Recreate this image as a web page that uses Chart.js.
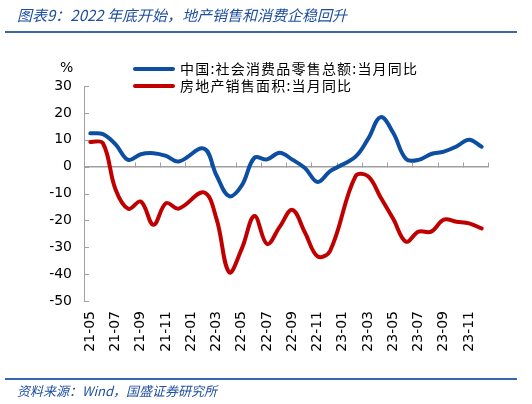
<!DOCTYPE html>
<html>
<head>
<meta charset="utf-8">
<script src="https://cdn.jsdelivr.net/npm/chart.js@4.4.1/dist/chart.umd.min.js"></script>
<style>
  html, body { margin: 0; padding: 0; background: #fff; }
  #wrap { position: relative; width: 532px; height: 404px; overflow: hidden; font-family: "Noto Sans CJK SC", "DejaVu Sans", sans-serif; }
  #chart { position: absolute; left: 0; top: 0; }
  .title { position: absolute; left: 17px; top: 4px; font-size: 15px; font-style: italic; color: #1f4fa0; white-space: nowrap; }
  .rule { position: absolute; left: 5px; width: 512px; height: 2px; background: #3a66ab; }
  .source { position: absolute; left: 17px; top: 381px; font-size: 13px; font-style: italic; color: #1f4fa0; white-space: nowrap; }
  .unit { position: absolute; left: 60px; top: 59px; font: 14px "DejaVu Sans", sans-serif; color: #000; }
  .leg { position: absolute; left: 133px; font-size: 14px; letter-spacing: 1.2px; color: #000; white-space: nowrap; line-height: 18px; }
  .leg i { display: inline-block; width: 42px; height: 4px; border-radius: 2px; vertical-align: middle; margin-right: 5px; position: relative; top: -1px; }
</style>
</head>
<body>
<div id="wrap">
  <canvas id="chart" width="532" height="404"></canvas>
  <div class="title">图表9：2022 年底开始，地产销售和消费企稳回升</div>
  <div class="rule" style="top:31px"></div>
  <div class="unit">%</div>
  <div class="leg" style="top:59px"><i style="background:#0b4ea2"></i>中国:社会消费品零售总额:当月同比</div>
  <div class="leg" style="top:76px"><i style="background:#c00000"></i>房地产销售面积:当月同比</div>
  <div class="rule" style="top:378px"></div>
  <div class="source">资料来源：Wind，国盛证券研究所</div>
</div>
<script>
// months 21-05 .. 23-12 (January values are not published, left empty)
const months = [
  "21-05","21-06","21-07","21-08","21-09","21-10","21-11","21-12",
  "22-01","22-02","22-03","22-04","22-05","22-06","22-07","22-08","22-09","22-10","22-11","22-12",
  "23-01","23-02","23-03","23-04","23-05","23-06","23-07","23-08","23-09","23-10","23-11","23-12"
];

// 中国:社会消费品零售总额:当月同比
const retailSales = [
  12.4, 12.1, 8.3, 2.5, 4.6, 5.0, 4.0, 1.9,
  null, 6.7, -3.3, -11.0, -7.0, 3.3, 2.7, 5.2, 2.6, -0.5, -5.7, -1.7,
  null, 3.7, 10.3, 18.4, 12.5, 2.9, 2.5, 4.7, 5.6, 7.5, 10.0, 7.4
];

// 房地产销售面积:当月同比
const housingArea = [
  9.2, 8.7, -8.5, -15.7, -13.0, -21.6, -13.6, -15.6,
  null, -9.6, -19.5, -39.3, -30.5, -18.4, -28.8, -22.4, -16.1, -24.5, -33.4, -31.3,
  null, -3.6, -3.6, -11.5, -19.5, -27.9, -24.2, -24.2, -19.7, -20.5, -21.1, -23.0
];

const yMin = -50, yMax = 30, yStep = 10;

// small tick marks: inward on the y axis, upward on the zero line every 2 months
const axisMarks = {
  id: 'axisMarks',
  beforeDatasetsDraw(chart) {
    const { ctx, scales: { x, y } } = chart;
    const y0 = Math.round(y.getPixelForValue(0)) + 0.5;
    const half = (x.getPixelForValue(1) - x.getPixelForValue(0)) / 2;
    ctx.save();
    ctx.strokeStyle = '#a0a0a0';
    ctx.lineWidth = 1;
    ctx.beginPath();
    for (let i = 0; i <= months.length; i += 2) {
      const px = Math.round(x.getPixelForValue(i) - half) + 0.5;
      ctx.moveTo(px, y0);
      ctx.lineTo(px, y0 - 5);
    }
    y.ticks.forEach(t => {
      const py = Math.round(y.getPixelForValue(t.value)) + 0.5;
      ctx.moveTo(x.left, py);
      ctx.lineTo(x.left + 5, py);
    });
    ctx.stroke();
    ctx.restore();
  }
};

new Chart(document.getElementById('chart'), {
  type: 'line',
  data: {
    labels: months,
    datasets: [
      { label: '中国:社会消费品零售总额:当月同比', data: retailSales, borderColor: '#0b4ea2' },
      { label: '房地产销售面积:当月同比', data: housingArea, borderColor: '#c00000' }
    ]
  },
  options: {
    responsive: false,
    animation: false,
    spanGaps: true,
    layout: { padding: { left: 40, top: 86, right: 44, bottom: 43 } },
    elements: {
      line: { borderWidth: 4, tension: 0.38, borderCapStyle: 'round', borderJoinStyle: 'round', fill: false },
      point: { radius: 0 }
    },
    plugins: { legend: { display: false }, tooltip: { enabled: false } },
    scales: {
      x: {
        offset: true,
        grid: { display: false, drawTicks: false },
        border: { display: false },
        ticks: {
          autoSkip: false,
          minRotation: 90,
          maxRotation: 90,
          padding: 10,
          color: '#000',
          font: { family: 'DejaVu Sans', size: 14 },
          callback: (v, i) => (i % 2 === 0 ? months[i] : '')
        },
        afterFit: s => { s.height = 60; }
      },
      y: {
        min: yMin,
        max: yMax,
        grid: {
          drawTicks: false,
          color: c => (c.tick && c.tick.value === 0 ? '#a0a0a0' : 'rgba(0,0,0,0)'),
          lineWidth: 1.5
        },
        border: { display: true, color: '#a0a0a0', width: 1 },
        ticks: {
          stepSize: yStep,
          padding: 12,
          color: '#000',
          font: { family: 'DejaVu Sans', size: 14 }
        },
        afterFit: s => { s.width = 44; }
      }
    }
  },
  plugins: [axisMarks]
});
</script>
</body>
</html>
